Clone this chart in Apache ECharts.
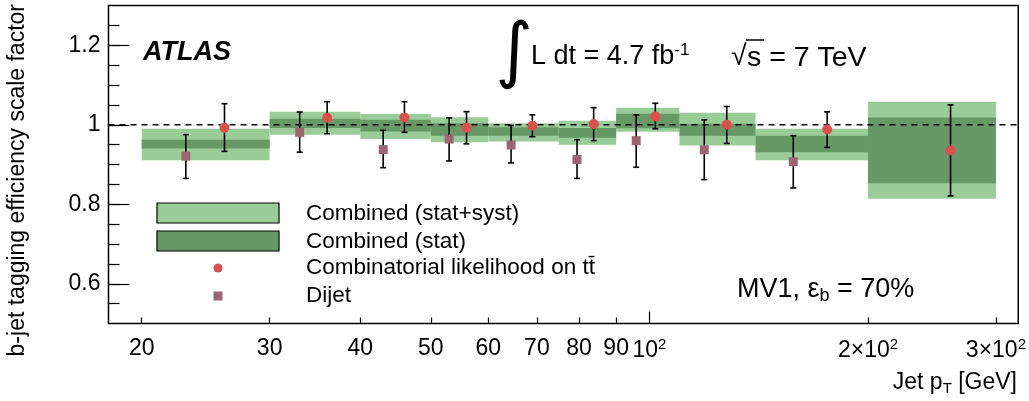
<!DOCTYPE html>
<html><head><meta charset="utf-8">
<script src="https://cdn.jsdelivr.net/npm/echarts@6/dist/echarts.min.js"></script>
<style>html,body{margin:0;padding:0;background:#fff}#c{width:1029px;height:401px}</style>
</head><body><div id="c"></div>
<script>
// ---- data ----
const binLow  = [20, 30, 40, 50, 60, 75, 90, 110, 140, 200];
const binHigh = [30, 40, 50, 60, 75, 90, 110, 140, 200, 300];
const totHi  = [0.990, 1.033, 1.027, 1.019, 1.004, 1.010, 1.0425, 1.030, 0.990, 1.058];
const totLo  = [0.911, 0.975, 0.964, 0.956, 0.958, 0.950, 0.9825, 0.9475, 0.911, 0.814];
const statHi = [0.9625, 1.015, 1.0125, 1.004, 0.994, 0.992, 1.0275, 1.0025, 0.9725, 1.018];
const statLo = [0.940, 0.992, 0.983, 0.9725, 0.9725, 0.967, 0.991, 0.9725, 0.931, 0.853];

const ttPt = [26, 36, 46, 56, 69, 83.8, 101.9, 127.8, 175.7, 259.8];
const ttSF = [0.9925, 1.0175, 1.018, 0.9925, 0.9975, 1.002, 1.021, 1.000, 0.988, 0.935];
const ttUp = [1.053, 1.058, 1.058, 1.033, 1.025, 1.043, 1.054, 1.046, 1.0325, 1.050];
const ttDn = [0.933, 0.9775, 0.981, 0.952, 0.970, 0.960, 0.990, 0.953, 0.943, 0.821];

const djPt = [23, 33, 43, 53, 64.5, 79.5, 95.9, 119, 157.8];
const djSF = [0.921, 0.981, 0.9375, 0.964, 0.949, 0.9125, 0.960, 0.937, 0.907];
const djUp = [0.975, 1.032, 0.986, 1.0175, 0.998, 0.9625, 1.025, 1.0125, 0.9725];
const djDn = [0.865, 0.931, 0.892, 0.909, 0.904, 0.865, 0.893, 0.862, 0.841];

const xTickVals  = [20, 30, 40, 50, 60, 70, 80, 90, 200, 300];
const xMajorTick = [100];
const xLabelVals = [20, 30, 40, 50, 60, 70, 80, 90, 100, 200, 300];
const yLabelVals = [0.6, 0.8, 1.0, 1.2];
const yMinorVals = [0.55,0.6,0.65,0.7,0.75,0.8,0.85,0.9,0.95,1.0,1.05,1.1,1.15,1.2,1.25];
const xMin = 18, xMax = 322, yMin = 0.5, yMax = 1.3;

const LIGHT = '#99cc99', DARK = '#669966', RED = '#d9514e', MAUVE = '#9b6672';
const FONT = 'Liberation Sans, Arial, sans-serif';
const L = Math.log10;

function bandSeries(lo, hi, color, z) {
  return {
    type: 'custom', z: z, silent: true,
    data: binLow.map((b, i) => [L(b), L(binHigh[i]), lo[i], hi[i]]),
    encode: {x: [0, 1], y: [2, 3]},
    renderItem: (params, api) => {
      const p1 = api.coord([api.value(0), api.value(3)]);
      const p2 = api.coord([api.value(1), api.value(2)]);
      return {type: 'rect', shape: {x: p1[0], y: p1[1], width: p2[0] - p1[0], height: p2[1] - p1[1]},
              style: {fill: color}};
    }
  };
}
function errSeries(pt, dn, up) {
  return {
    type: 'custom', z: 4, silent: true,
    data: pt.map((p, i) => [L(p), dn[i], up[i]]),
    encode: {x: 0, y: [1, 2]},
    renderItem: (params, api) => {
      const t = api.coord([api.value(0), api.value(2)]);
      const b = api.coord([api.value(0), api.value(1)]);
      const c = 3, st = {stroke: '#000', lineWidth: 1.6};
      return {type: 'group', children: [
        {type: 'line', shape: {x1: t[0], y1: t[1], x2: b[0], y2: b[1]}, style: st},
        {type: 'line', shape: {x1: t[0] - c, y1: t[1], x2: t[0] + c, y2: t[1]}, style: st},
        {type: 'line', shape: {x1: b[0] - c, y1: b[1], x2: b[0] + c, y2: b[1]}, style: st}
      ]};
    }
  };
}

const chart = echarts.init(document.getElementById('c'), null, {renderer: 'canvas'});
const xLabelFmt = v => {
  const p = Math.round(Math.pow(10, v));
  if (p < 100) return String(p);
  if (p === 100) return '10{sup|2}';
  return (p / 100) + '×10{sup|2}';
};
const option = {
  animation: false,
  backgroundColor: '#fff',
  grid: {left: 108.5, right: 10, top: 5.5, bottom: 77.5, show: true, borderColor: '#000', borderWidth: 1.5},
  xAxis: [
    {type: 'value', min: L(xMin), max: L(xMax), splitLine: {show: false},
     axisLine: {show: false},
     axisTick: {show: true, inside: true, length: 6, customValues: xTickVals.map(L), lineStyle: {color: '#000', width: 1.2}},
     axisLabel: {show: true, customValues: xLabelVals.map(L), formatter: xLabelFmt, margin: 14,
                 color: '#000', fontSize: 23, fontFamily: FONT,
                 rich: {sup: {fontSize: 15, fontFamily: FONT, color: '#000', verticalAlign: 'top', padding: [0, 0, 12, 0]}}}},
    {type: 'value', min: L(xMin), max: L(xMax), position: 'bottom', splitLine: {show: false},
     axisLine: {show: false}, axisLabel: {show: false},
     axisTick: {show: true, inside: true, length: 12, customValues: xMajorTick.map(L), lineStyle: {color: '#000', width: 1.2}}}
  ],
  yAxis: [
    {type: 'value', min: yMin, max: yMax, splitLine: {show: false}, axisLine: {show: false},
     axisTick: {show: true, inside: true, length: 21, customValues: yLabelVals, lineStyle: {color: '#000', width: 1.2}},
     axisLabel: {show: true, customValues: yLabelVals, margin: 8, color: '#000', fontSize: 23, fontFamily: FONT,
                 formatter: v => (Math.abs(v - 1) < 1e-9 ? '1' : String(Math.round(v * 10) / 10))}},
    {type: 'value', min: yMin, max: yMax, position: 'left', splitLine: {show: false}, axisLine: {show: false},
     axisLabel: {show: false},
     axisTick: {show: true, inside: true, length: 11, customValues: yMinorVals, lineStyle: {color: '#000', width: 1.2}}}
  ],
  series: [
    bandSeries(totLo, totHi, LIGHT, 1),
    bandSeries(statLo, statHi, DARK, 2),
    {type: 'line', z: 3, silent: true, symbol: 'none', data: [[L(xMin), 1], [L(xMax), 1]],
     lineStyle: {color: '#000', width: 1.6, type: [6, 5]}},
    errSeries(ttPt, ttDn, ttUp),
    errSeries(djPt, djDn, djUp),
    {type: 'scatter', z: 5, silent: true, symbol: 'circle', symbolSize: 10,
     itemStyle: {color: RED, opacity: 1}, data: ttPt.map((p, i) => [L(p), ttSF[i]])},
    {type: 'scatter', z: 5, silent: true, symbol: 'rect', symbolSize: 9,
     itemStyle: {color: MAUVE, opacity: 1}, data: djPt.map((p, i) => [L(p), djSF[i]])}
  ],
  graphic: [
    {type: 'text', x: 18, y: 4, rotation: Math.PI / 2,
     style: {text: 'b-jet tagging efficiency scale factor', fontSize: 23, fontFamily: FONT, fill: '#000', align: 'right', verticalAlign: 'middle'}},
    {type: 'text', x: 1017, y: 383,
     style: {text: 'Jet p{sub|T} [GeV]', fontSize: 23, fontFamily: FONT, fill: '#000', align: 'right', verticalAlign: 'middle',
             rich: {sub: {fontSize: 15, fontFamily: FONT, fill: '#000', verticalAlign: 'bottom', padding: [12, 0, 0, 0]}}}},
    {type: 'text', x: 143, y: 53,
     style: {text: 'ATLAS', font: 'italic bold 27px ' + FONT, fill: '#000', align: 'left', verticalAlign: 'middle'}},
    {type: 'text', x: 514, y: 55,
     style: {text: '∫', fontSize: 72, fontFamily: 'DejaVu Sans', fill: '#000', align: 'center', verticalAlign: 'middle'}},
    {type: 'text', x: 531, y: 57,
     style: {text: 'L dt = 4.7 fb{sup|-1}', fontSize: 27, fontFamily: FONT, fill: '#000', align: 'left', verticalAlign: 'middle',
             rich: {sup: {fontSize: 17, fontFamily: FONT, fill: '#000', verticalAlign: 'top', padding: [0, 0, 14, 0]}}}},
    {type: 'text', x: 731, y: 57,
     style: {text: '√', fontSize: 28.5, fontFamily: FONT, fill: '#000', align: 'left', verticalAlign: 'middle'}},
    {type: 'text', x: 747, y: 58,
     style: {text: 's = 7 TeV', fontSize: 28.5, fontFamily: FONT, fill: '#000', align: 'left', verticalAlign: 'middle'}},
    {type: 'line', shape: {x1: 746, y1: 40, x2: 764, y2: 40}, style: {stroke: '#000', lineWidth: 1.5}},
    {type: 'text', x: 737, y: 290,
     style: {text: 'MV1, ε{sub|b} = 70%', fontSize: 27, fontFamily: FONT, fill: '#000', align: 'left', verticalAlign: 'middle',
             rich: {sub: {fontSize: 18, fontFamily: FONT, fill: '#000', verticalAlign: 'bottom', padding: [12, 0, 0, 0]}}}},
    // legend
    {type: 'rect', shape: {x: 157, y: 203, width: 122, height: 20}, style: {fill: LIGHT, stroke: '#000', lineWidth: 1.2}},
    {type: 'rect', shape: {x: 157, y: 231, width: 122, height: 20}, style: {fill: DARK, stroke: '#000', lineWidth: 1.2}},
    {type: 'circle', shape: {cx: 218, cy: 268, r: 4.5}, style: {fill: RED}},
    {type: 'rect', shape: {x: 213.5, y: 291.5, width: 9, height: 9}, style: {fill: MAUVE}},
    {type: 'text', x: 306, y: 214, style: {text: 'Combined (stat+syst)', fontSize: 22.5, fontFamily: FONT, fill: '#000', verticalAlign: 'middle'}},
    {type: 'text', x: 306, y: 242, style: {text: 'Combined (stat)', fontSize: 22.5, fontFamily: FONT, fill: '#000', verticalAlign: 'middle'}},
    {type: 'text', x: 306, y: 268, style: {text: 'Combinatorial likelihood on tt\u0304', fontSize: 22.5, fontFamily: FONT, fill: '#000', verticalAlign: 'middle'}},
    {type: 'text', x: 306, y: 296, style: {text: 'Dijet', fontSize: 22.5, fontFamily: FONT, fill: '#000', verticalAlign: 'middle'}}
  ]
};
chart.setOption(option);
</script></body></html>
